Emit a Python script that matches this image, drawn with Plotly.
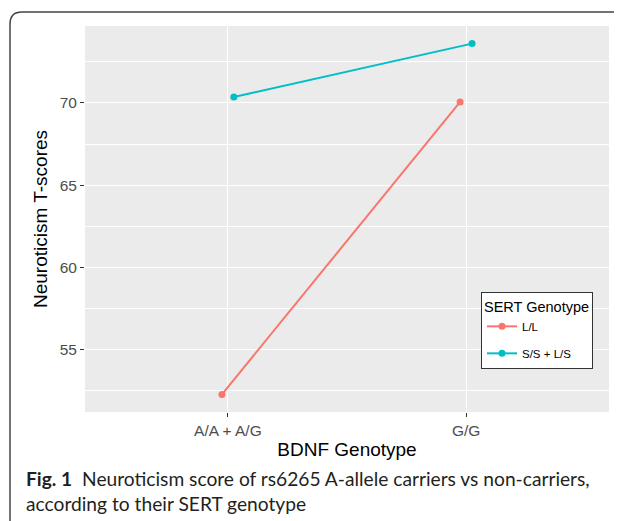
import plotly.graph_objects as go

# ---- data ----
categories = ["A/A + A/G", "G/G"]
series_names = ["L/L", "S/S + L/S"]
ll_values = [52.29, 70.06]
ss_values = [70.36, 73.60]
y_ticks = [55, 60, 65, 70]

colors = ["#F8766D", "#00BFC4"]
dodge = [-0.025, 0.025]

OFF = 8  # page body margin
W, H = 622 - OFF, 521 - OFF
L, R, T, B = 85 - OFF, 609 - OFF, 26 - OFF, 412 - OFF  # plot area in figure px


def xp(px):  # page px -> paper
    return (px - OFF - L) / (R - L)


def yp(py):
    return (B - (py - OFF)) / (B - T)


fig = go.Figure()
cat_pos = list(range(1, len(categories) + 1))
for i, (name, vals, col, dx) in enumerate(zip(series_names, [ll_values, ss_values], colors, dodge)):
    fig.add_trace(go.Scatter(
        x=[p + dx for p in cat_pos], y=vals, name=name, mode="lines+markers",
        line=dict(color=col, width=2), marker=dict(color=col, size=7),
        legendgroup=f"g{i}",
    ))

font_family = "Liberation Sans, Arial, sans-serif"

fig.update_layout(
    width=W, height=H,
    margin=dict(l=L, r=W - R, t=T, b=H - B, pad=0),
    paper_bgcolor="white", plot_bgcolor="#EBEBEB",
    font=dict(family=font_family, color="#000000"),
    showlegend=True,
    legend=dict(
        title=dict(text="SERT Genotype", font=dict(size=14.5, color="black")),
        font=dict(size=11.5, color="black"),
        x=xp(481), y=yp(292), xanchor="left", yanchor="top",
        bgcolor="white", bordercolor="#333333", borderwidth=1,
        tracegroupgap=8, itemwidth=30,
    ),
    xaxis=dict(
        range=[0.4, 2.6], tickvals=cat_pos, ticktext=categories,
        showgrid=True, gridcolor="white", gridwidth=1.3, zeroline=False,
        ticks="outside", ticklen=4, tickcolor="#333333", tickwidth=1.1,
        tickfont=dict(size=15.5, color="#4D4D4D"),
        title=dict(text="BDNF Genotype", font=dict(size=19, color="black"), standoff=5),
        showline=False,
    ),
    yaxis=dict(
        range=[51.22, 74.67], tickvals=y_ticks,
        showgrid=True, gridcolor="white", gridwidth=1.3, zeroline=False,
        ticks="outside", ticklen=4, tickcolor="#333333", tickwidth=1.1,
        tickfont=dict(size=15.5, color="#4D4D4D"),
        title=dict(text="Neuroticism T-scores", font=dict(size=19, color="black"), standoff=7),
        minor=dict(dtick=2.5, tick0=52.5, showgrid=True, gridcolor="white", gridwidth=0.6, ticks=""),
        showline=False,
    ),
)

# outer frame (rounded top-left corner)
x0, y0, r = xp(10), yp(12), 12
path = (f"M {x0},{yp(540)} L {x0},{yp(12 + r)} Q {x0},{y0} {xp(10 + r)},{y0} L {xp(640)},{y0}")
fig.add_shape(type="path", path=path, xref="paper", yref="paper",
              line=dict(color="#444444", width=1.5))

cap_font = dict(family="Lato, Open Sans, sans-serif", size=19.2, color="#231F20")
fig.add_annotation(
    text="<b>Fig. 1</b>&nbsp;&nbsp;Neuroticism score of rs6265 A-allele carriers vs non-carriers,",
    xref="paper", yref="paper", x=xp(24), y=yp(478), xanchor="left", yanchor="middle",
    showarrow=False, font=cap_font,
)
fig.add_annotation(
    text="according to their SERT genotype",
    xref="paper", yref="paper", x=xp(24), y=yp(503), xanchor="left", yanchor="middle",
    showarrow=False, font=cap_font,
)

fig.write_html("out.html")
